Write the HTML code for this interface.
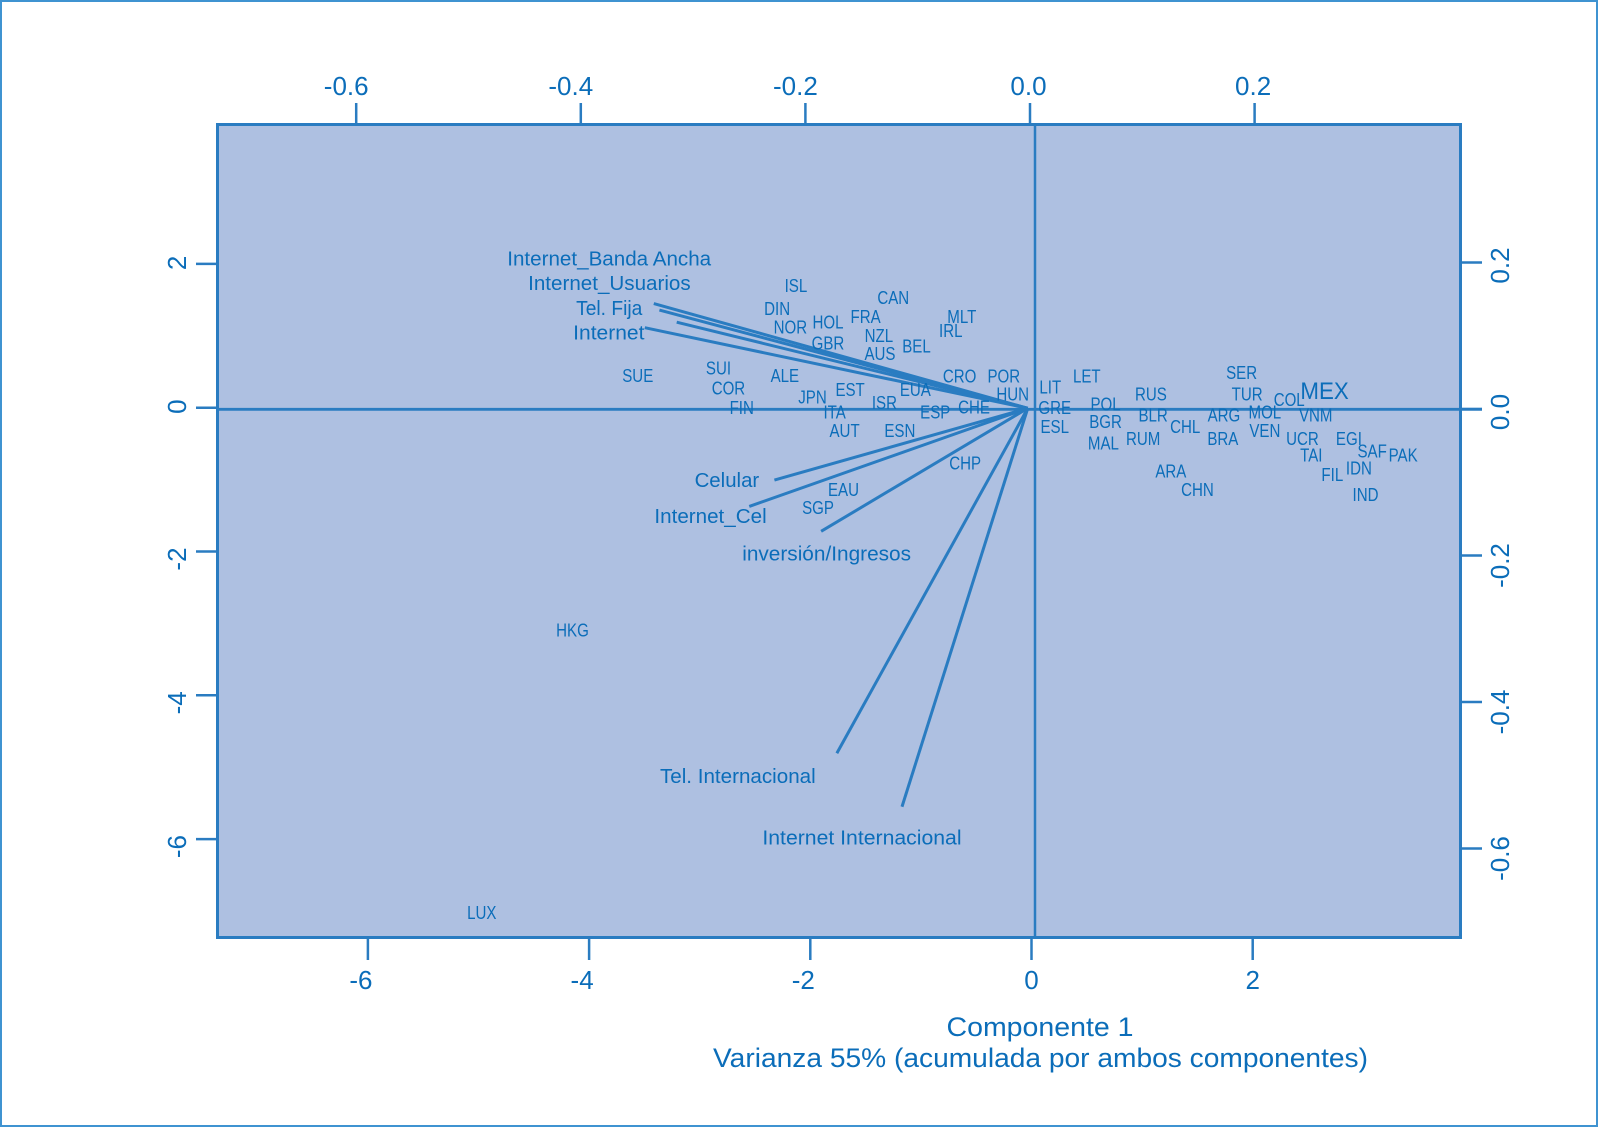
<!DOCTYPE html>
<html lang="es">
<head>
<meta charset="utf-8">
<title>Biplot de componentes principales</title>
<style>
html,body{margin:0;padding:0;background:#fff;width:1598px;height:1127px;overflow:hidden}
svg{display:block}
text{font-family:"Liberation Sans",sans-serif;fill:#0b6db9}
</style>
</head>
<body>
<svg id="chart" xmlns="http://www.w3.org/2000/svg" width="1598" height="1127" viewBox="0 0 1598 1127">
  <rect x="1" y="1" width="1596" height="1125" fill="#fff" stroke="#3f93d1" stroke-width="2"/>
  <rect x="217.5" y="124.5" width="1243" height="813" fill="#aec0e1" stroke="#2a7cc1" stroke-width="3"/>
  <g id="axes"></g>
  <g id="vectors"></g>
  <g id="countries"></g>
  <text x="1040" y="1036" font-size="27" text-anchor="middle" textLength="187" lengthAdjust="spacingAndGlyphs">Componente 1</text>
  <text x="1040.5" y="1067" font-size="27" text-anchor="middle" textLength="655" lengthAdjust="spacingAndGlyphs">Varianza 55% (acumulada por ambos componentes)</text>
</svg>
<script>
// Tick values
const bottomTicks = [-6, -4, -2, 0, 2];
const leftTicks = [2, 0, -2, -4, -6];
const topTicks = [-0.6, -0.4, -0.2, 0.0, 0.2];
const rightTicks = [0.2, 0.0, -0.2, -0.4, -0.6];

// Country scores (component 1, component 2)
const countryNames = ["ISL","DIN","NOR","HOL","GBR","FRA","CAN","NZL","AUS","BEL","MLT","IRL","SUE","SUI","COR","FIN","ALE","JPN","EST","ITA","AUT","ISR","ESN","EUA","ESP","CHE","CRO","POR","HUN","CHP","EAU","SGP","HKG","LUX","LIT","GRE","ESL","LET","POL","BGR","MAL","RUS","BLR","RUM","CHL","ARA","CHN","ARG","BRA","SER","TUR","MOL","VEN","COL","MEX","VNM","UCR","TAI","EGI","SAF","PAK","IDN","FIL","IND"];
const countryPc1 = [-2.13,-2.30,-2.18,-1.84,-1.84,-1.50,-1.25,-1.38,-1.37,-1.04,-0.63,-0.73,-3.56,-2.83,-2.74,-2.62,-2.23,-1.98,-1.64,-1.78,-1.69,-1.33,-1.19,-1.05,-0.87,-0.52,-0.65,-0.25,-0.17,-0.60,-1.70,-1.93,-4.15,-4.97,0.17,0.21,0.21,0.50,0.67,0.67,0.65,1.08,1.10,1.01,1.39,1.26,1.50,1.74,1.73,1.90,1.95,2.11,2.11,2.33,2.65,2.57,2.45,2.53,2.87,3.08,3.36,2.96,2.72,3.02];
const countryPc2 = [1.69,1.37,1.11,1.18,0.89,1.26,1.52,0.99,0.74,0.85,1.26,1.06,0.44,0.54,0.26,-0.01,0.44,0.14,0.24,-0.07,-0.33,0.06,-0.33,0.24,-0.07,0.00,0.43,0.43,0.18,-0.78,-1.15,-1.40,-3.10,-7.03,0.28,-0.01,-0.27,0.43,0.04,-0.20,-0.50,0.18,-0.11,-0.44,-0.27,-0.89,-1.15,-0.11,-0.44,0.48,0.18,-0.07,-0.33,0.10,0.24,-0.11,-0.44,-0.67,-0.44,-0.61,-0.67,-0.85,-0.94,-1.22];

// Variable loadings (top axis, right axis)
const variableNames = ["Internet_Banda Ancha","Internet_Usuarios","Tel. Fija","Internet","Celular","Internet_Cel","inversión/Ingresos","Tel. Internacional","Internet Internacional"];
const loadingPc1 = [-0.335,-0.330,-0.3146,-0.343,-0.2276,-0.250,-0.186,-0.172,-0.114];
const loadingPc2 = [0.144,0.135,0.1185,0.111,-0.097,-0.133,-0.167,-0.470,-0.543];
const vectorOrigin = [-0.002, 0.001];

// Axis functions
function xBottom(v){ return 1031.5 + 110.6 * v; }
function yLeft(v){ return 407.7 - 71.9 * v; }
function xTop(v){ return 1030 + 1123 * v; }
function yRight(v){ return 409 - 732.5 * v; }

const SVGNS = "http://www.w3.org/2000/svg";
const LINE = "#2a7cc1";
const axesG = document.getElementById("axes");
const vectorsG = document.getElementById("vectors");
const countriesG = document.getElementById("countries");

function makeLine(parent, x1, y1, x2, y2, w){
  const l = document.createElementNS(SVGNS, "line");
  l.setAttribute("x1", x1);
  l.setAttribute("y1", y1);
  l.setAttribute("x2", x2);
  l.setAttribute("y2", y2);
  l.setAttribute("stroke", LINE);
  l.setAttribute("stroke-width", w);
  parent.appendChild(l);
  return l;
}
function makeText(parent, str, x, y, size, squeeze){
  const t = document.createElementNS(SVGNS, "text");
  t.setAttribute("x", x);
  t.setAttribute("y", y);
  t.setAttribute("font-size", size);
  t.setAttribute("text-anchor", "middle");
  t.textContent = str;
  parent.appendChild(t);
  if (squeeze && squeeze !== 1) {
    t.setAttribute("textLength", (t.getComputedTextLength() * squeeze).toFixed(2));
    t.setAttribute("lengthAdjust", "spacingAndGlyphs");
  }
  return t;
}

// Zero reference lines
const zeroH = makeLine(axesG, 217, 409.3, 1482, 409.3, 2.8);


const zeroV = makeLine(axesG, 1035, 124.5, 1035, 937.5, 2.5);



// Bottom axis
bottomTicks.forEach(function(v){
  const x = xBottom(v);
  const tick = makeLine(axesG, x, 938, x, 960, 2.5);
  
  
  const label = makeText(axesG, String(v), v < 0 ? x - 7 : x, 989, 26, 1);
  
  
});

// Top axis
topTicks.forEach(function(v){
  const x = xTop(v);
  const tick = makeLine(axesG, x, 103, x, 124, 2.5);
  
  
  const label = makeText(axesG, v.toFixed(1), v < 0 ? x - 10 : x - 1.5, 95, 26, 1);
  
  
});

// Left axis
leftTicks.forEach(function(v){
  const y = yLeft(v);
  const tick = makeLine(axesG, 196, y, 217, y, 2.5);
  
  
  const cy = v < 0 ? y + 7.5 : y - 1;
  const label = makeText(axesG, String(v), 186, cy, 26, 1);
  label.setAttribute("transform", "rotate(-90 186 " + cy + ")");
  
  
});

// Right axis
rightTicks.forEach(function(v){
  const y = yRight(v);
  const tick = makeLine(axesG, 1460, y, 1482, y, 2.5);
  
  
  const cy = v < 0 ? y + 10 : y + 3;
  const label = makeText(axesG, v.toFixed(1), 1509, cy, 26, 1);
  label.setAttribute("transform", "rotate(-90 1509 " + cy + ")");
  
  
});

// Loading vectors and their labels
const labelPlacement = {
  "Internet_Banda Ancha": [-44.6, -45, 1.03],
  "Internet_Usuarios": [-50, -27, 1.03],
  "Tel. Fija": [-67.5, -14, 0.96],
  "Internet": [-36, 5, 1.05],
  "Celular": [-47.5, 0, 1.02],
  "Internet_Cel": [-38.7, 9.5, 1.03],
  "inversión/Ingresos": [5.5, 22, 1.04],
  "Tel. Internacional": [-99, 22.5, 1.03],
  "Internet Internacional": [-40, 30.7, 1.06]
};
variableNames.forEach(function(name, i){
  const x0 = xTop(vectorOrigin[0]);
  const y0 = yRight(vectorOrigin[1]);
  const x1 = xTop(loadingPc1[i]);
  const y1 = yRight(loadingPc2[i]);
  const v = makeLine(vectorsG, x0, y0, x1, y1, 3);
  
  
  const place = labelPlacement[name];
  const t = makeText(vectorsG, name, x1 + place[0], y1 + place[1] + 7, 20, place[2]);
  
  
});

// Country labels
countryNames.forEach(function(name, i){
  const big = name === "MEX";
  const x = xBottom(countryPc1[i]);
  const y = yLeft(countryPc2[i]) + (big ? 8.8 : 5.7);
  const t = makeText(countriesG, name, x, y, big ? 24 : 18.4, big ? 0.93 : 0.82);
  
  
});
</script>
</body>
</html>
